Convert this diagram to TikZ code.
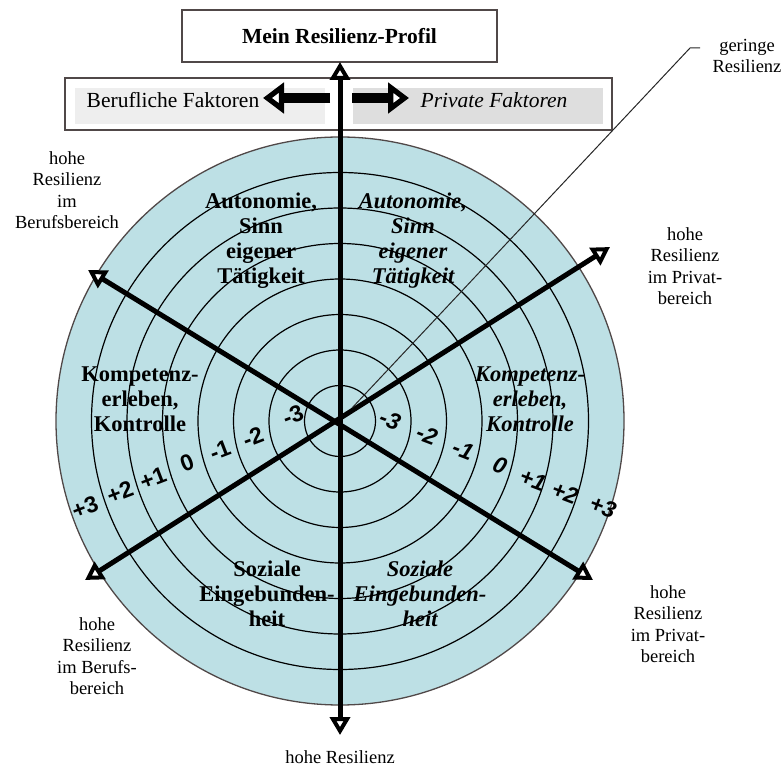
\documentclass[tikz,border=0pt]{standalone}
\usepackage{fontspec}
\setmainfont{Liberation Serif}
\newfontfamily\numfont{Liberation Sans}
\usepackage{xcolor}
\usetikzlibrary{arrows.meta}
\definecolor{ringfill}{RGB}{189,224,229}
\definecolor{boxline}{RGB}{80,72,72}
\definecolor{grayleft}{RGB}{238,238,238}
\definecolor{grayright}{RGB}{222,222,222}
\tikzset{
hollow/.tip={Triangle[length=18pt,width=20pt,fill=white,line width=4pt]},
fathollow/.tip={Triangle[length=21pt,width=30pt,fill=white,line width=6pt]}
}

\begin{document}
\begin{tikzpicture}[
x=1pt,
y=1pt,
every node/.style={font=\fontsize{21.5}{25}\selectfont},
titlebox/.style={rectangle,draw=boxline,line width=1.5pt,fill=white,minimum width=315pt,minimum height=52pt},
factbox/.style={rectangle,draw=boxline,line width=1.5pt,fill=white,minimum width=547pt,minimum height=52pt},
grayfield/.style={rectangle,inner sep=0pt,minimum width=250pt,minimum height=36pt},
sector/.style={align=center,font=\fontsize{22.5}{25}\selectfont\bfseries},
sectorpriv/.style={sector,font=\fontsize{22.5}{25}\selectfont\bfseries\itshape},
outer/.style={align=center,font=\fontsize{18.5}{21.5}\selectfont},
scalenum/.style={font=\numfont\bfseries\fontsize{23}{26}\selectfont,inner sep=0pt,rotate=21},
scalepriv/.style={font=\numfont\bfseries\itshape\fontsize{23}{26}\selectfont,inner sep=0pt,rotate=-21},
ring/.style={draw=black,line width=1.2pt},
axis/.style={line width=5pt,hollow-hollow},
factarrow/.style={line width=10pt,-fathollow},
leader/.style={draw=black!85,line width=1pt}
]
\useasboundingbox (0,0) rectangle (784,769);

% Scheibe
\coordinate (c) at (340,348);
\fill[ringfill] (c) circle (284);
\draw[ring] (c) circle (35.5);
\draw[ring] (c) circle (71);
\draw[ring] (c) circle (106.5);
\draw[ring] (c) circle (142);
\draw[ring] (c) circle (177.5);
\draw[ring] (c) circle (213);
\draw[ring] (c) circle (248.5);
\draw[draw=boxline,line width=1.3pt] (c) circle (284);

% Kopf
\node[factbox] (fbox) at (338.5,665) {};
\node[grayfield,fill=grayleft] (gleft) at (200,662.5) {};
\node[grayfield,fill=grayright] (gright) at (477.5,662.5) {};
\node (beruf) at (173,669) {Berufliche Faktoren};
\node (privat) at (494,669) {\itshape Private Faktoren};
\node[titlebox] (title) at (339.5,733) {\textbf{Mein Resilienz-Profil}};

% Sektoren
\node[sector] (autob) at (261,528) {Autonomie,\\Sinn\\eigener\\Tätigkeit};
\node[sectorpriv] (autop) at (413,528) {Autonomie,\\Sinn\\eigener\\Tätigkeit};
\node[sector] (kompb) at (140,370) {Kompetenz-\\erleben,\\Kontrolle};
\node[sectorpriv] (kompp) at (530,370) {Kompetenz-\\erleben,\\Kontrolle};
\node[sector] (sozb) at (267,175) {Soziale\\Eingebunden-\\heit};
\node[sectorpriv] (sozp) at (420,175) {Soziale\\Eingebunden-\\heit};

% Skala
\node[scalenum] (lm3) at (293,354) {-3};
\node[scalenum] (lm2) at (253,332) {-2};
\node[scalenum] (lm1) at (220,319) {-1};
\node[scalenum] (l0) at (187,306) {0};
\node[scalenum] (lp1) at (153,291) {+1};
\node[scalenum] (lp2) at (120,277) {+2};
\node[scalenum] (lp3) at (85,262) {+3};
\node[scalepriv] (rm3) at (390,349) {-3};
\node[scalepriv] (rm2) at (427,334) {-2};
\node[scalepriv] (rm1) at (463,319) {-1};
\node[scalepriv] (r0) at (500,304) {0};
\node[scalepriv] (rp1) at (533,289) {+1};
\node[scalepriv] (rp2) at (565,276) {+2};
\node[scalepriv] (rp3) at (603,262) {+3};

% Achsen
\coordinate (top) at (340,707);
\coordinate (bot) at (340,34);
\coordinate (ul) at (88,499);
\coordinate (ur) at (610,522);
\coordinate (ll) at (85,189);
\coordinate (lr) at (593,189);
\draw[axis] (bot) -- (top);
\draw[axis] (ul) -- (lr);
\draw[axis] (ll) -- (ur);

\coordinate (lstart) at (330,671);
\coordinate (lend) at (263,671);
\coordinate (rstart) at (352,671);
\coordinate (rend) at (409,671);
\draw[factarrow] (lstart) -- (lend);
\draw[factarrow] (rstart) -- (rend);

% Beschriftung aussen
\node[outer] (hul) at (67,579) {hohe\\Resilienz\\im\\Berufsbereich};
\node[outer] (hur) at (685,503) {hohe\\Resilienz\\im Privat-\\bereich};
\node[outer] (hll) at (97,113) {hohe\\Resilienz\\im Berufs-\\bereich};
\node[outer] (hlr) at (668,145) {hohe\\Resilienz\\im Privat-\\bereich};
\node[outer] (hbot) at (340,12) {hohe Resilienz};
\node[outer] (gering) at (747,713) {geringe\\Resilienz};

\coordinate (lead0) at (700,721);
\coordinate (lead1) at (690,721);
\coordinate (lead2) at (352,361);
\draw[leader] (lead0) -- (lead1) -- (lead2);
\end{tikzpicture}
\end{document}
